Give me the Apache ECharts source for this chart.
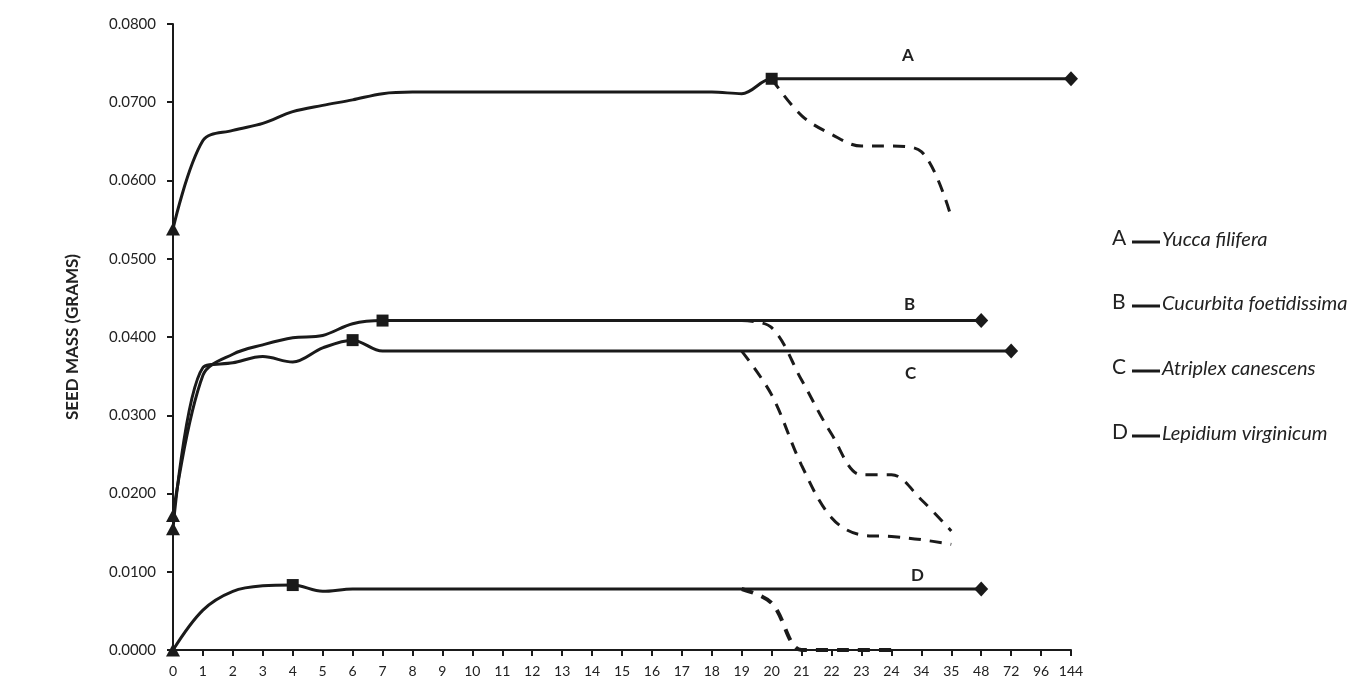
<!DOCTYPE html>
<html>
<head>
<meta charset="utf-8">
<script src="https://cdn.jsdelivr.net/npm/echarts@6/dist/echarts.min.js"></script>
<style>
  html, body { margin: 0; padding: 0; background: #fff; }
  #chart { width: 1368px; height: 693px; }
</style>
</head>
<body>
<div id="chart"></div>
<script>
// ---- Data ----
const categories = ['0','1','2','3','4','5','6','7','8','9','10','11','12','13','14','15','16','17','18','19','20','21','22','23','24','34','35','48','72','96','144'];
const yTickValues = [0, 0.01, 0.02, 0.03, 0.04, 0.05, 0.06, 0.07, 0.08];

// Solid lines (cumulative seed mass)
const yuccaSolid = [0.0538,0.0651,0.0664,0.0673,0.0688,0.0696,0.0703,0.0711,0.0713,0.0713,0.0713,0.0713,0.0713,0.0713,0.0713,0.0713,0.0713,0.0713,0.0713,0.0711,0.0730,0.0730,0.0730,0.0730,0.0730,0.0730,0.0730,0.0730,0.0730,0.0730,0.0730];
const cucurbitaSolid = [0.0172,0.0351,0.0378,0.0390,0.0399,0.0402,0.0417,0.0421,0.0421,0.0421,0.0421,0.0421,0.0421,0.0421,0.0421,0.0421,0.0421,0.0421,0.0421,0.0421,0.0421,0.0421,0.0421,0.0421,0.0421,0.0421,0.0421,0.0421,null,null,null];
const atriplexSolid = [0.0155,0.0361,0.0367,0.0375,0.0368,0.0386,0.0396,0.0382,0.0382,0.0382,0.0382,0.0382,0.0382,0.0382,0.0382,0.0382,0.0382,0.0382,0.0382,0.0382,0.0382,0.0382,0.0382,0.0382,0.0382,0.0382,0.0382,0.0382,0.0382,null,null];
const lepidiumSolid = [0.0000,0.0051,0.0075,0.0082,0.0083,0.0075,0.0078,0.0078,0.0078,0.0078,0.0078,0.0078,0.0078,0.0078,0.0078,0.0078,0.0078,0.0078,0.0078,0.0078,0.0078,0.0078,0.0078,0.0078,0.0078,0.0078,0.0078,0.0078,null,null,null];

// Dashed lines (decline)
const yuccaDashed = [null,null,null,null,null,null,null,null,null,null,null,null,null,null,null,null,null,null,null,null,0.0730,0.0683,0.0659,0.0644,0.0644,0.0637,0.0553,null,null,null,null];
const cucurbitaDashed = [null,null,null,null,null,null,null,null,null,null,null,null,null,null,null,null,null,null,null,0.0421,0.0412,0.0345,0.0276,0.0224,0.0224,0.0192,0.0152,null,null,null,null];
const atriplexDashed = [null,null,null,null,null,null,null,null,null,null,null,null,null,null,null,null,null,null,null,0.0382,0.0326,0.0236,0.0169,0.0147,0.0145,0.0141,0.0135,null,null,null,null];
const lepidiumDashed = [null,null,null,null,null,null,null,null,null,null,null,null,null,null,null,null,null,null,null,0.0078,0.0060,0.0000,0.0000,0.0000,0.0000,null,null,null,null,null,null];

// Marker categories: start (triangle), peak (square), end (diamond)
const yuccaMarkers = { start: '0', peak: '20', end: '144' };
const cucurbitaMarkers = { start: '0', peak: '7', end: '48' };
const atriplexMarkers = { start: '0', peak: '6', end: '72' };
const lepidiumMarkers = { start: '0', peak: '4', end: '48' };

const speciesLetters = ['A', 'B', 'C', 'D'];
const speciesNames = ['Yucca filifera', 'Cucurbita foetidissima', 'Atriplex canescens', 'Lepidium virginicum'];

// ---- Build ----
const INK = '#1a1a1a';
const FONT = 'Lato, "Open Sans", sans-serif';

function solidData(values, markers) {
  return values.map((v, i) => {
    const c = categories[i];
    if (v === null) return null;
    if (c === markers.start) return { value: v, symbol: 'triangle', symbolSize: [14, 13] };
    if (c === markers.peak) return { value: v, symbol: 'rect', symbolSize: 12 };
    if (c === markers.end) return { value: v, symbol: 'diamond', symbolSize: [14, 15] };
    return { value: v };
  });
}

function solidSeries(name, values, markers) {
  return {
    name: name, type: 'line', data: solidData(values, markers),
    smooth: 0.35, symbol: 'none', showAllSymbol: true,
    itemStyle: { color: INK },
    lineStyle: { color: INK, width: 3 },
    z: 3, animation: false
  };
}
function dashedSeries(name, values, width) {
  return {
    name: name + ' decline', type: 'line', data: values,
    smooth: 0.35, symbol: 'none',
    lineStyle: { color: INK, width: width || 3, type: [12, 9] },
    z: 2, animation: false
  };
}

const chart = echarts.init(document.getElementById('chart'), null, { renderer: 'canvas' });

const labelStyle = { fill: '#222', font: 'bold 17px ' + FONT };
const graphics = [
  { type: 'text', left: 902, top: 47, style: Object.assign({ text: 'A' }, labelStyle) },
  { type: 'text', left: 904, top: 296, style: Object.assign({ text: 'B' }, labelStyle) },
  { type: 'text', left: 905, top: 365, style: Object.assign({ text: 'C' }, labelStyle) },
  { type: 'text', left: 911, top: 567, style: Object.assign({ text: 'D' }, labelStyle) }
];
const legendTops = [228, 292, 357, 422];
speciesLetters.forEach((l, i) => {
  graphics.push({ type: 'text', left: 1112, top: legendTops[i], style: { text: l, fill: '#222', font: '21px ' + FONT } });
  graphics.push({ type: 'line', shape: { x1: 1132, y1: legendTops[i] + 14, x2: 1160, y2: legendTops[i] + 14 }, style: { stroke: INK, lineWidth: 3 } });
  graphics.push({ type: 'text', left: 1162, top: legendTops[i] + 2, style: { text: speciesNames[i], fill: '#222', font: 'italic 20px ' + FONT } });
});

const option = {
  backgroundColor: '#fff',
  animation: false,
  grid: { left: 173, right: 297, top: 24, bottom: 43, containLabel: false },
  xAxis: {
    type: 'category', data: categories, boundaryGap: false,
    axisLine: { lineStyle: { color: INK, width: 2 } },
    axisTick: { show: true, length: 6, alignWithLabel: true, interval: 0, lineStyle: { color: INK, width: 2 } },
    axisLabel: { interval: 0, color: '#222', fontFamily: FONT, fontSize: 14, margin: 14 },
    splitLine: { show: false }
  },
  yAxis: {
    type: 'value', min: 0, max: 0.08, interval: 0.01,
    name: 'SEED MASS (GRAMS)', nameLocation: 'middle', nameGap: 92, nameRotate: 90,
    nameTextStyle: { color: '#222', fontFamily: FONT, fontSize: 17, fontWeight: 'bold' },
    axisLine: { show: true, lineStyle: { color: INK, width: 2 } },
    axisTick: { show: true, length: 6, lineStyle: { color: INK, width: 2 } },
    axisLabel: { color: '#222', fontFamily: FONT, fontSize: 15, margin: 17,
      formatter: v => (yTickValues.includes(Math.round(v * 100) / 100) ? v.toFixed(4) : '') },
    splitLine: { show: false }
  },
  series: [
    dashedSeries('Yucca filifera', yuccaDashed),
    dashedSeries('Cucurbita foetidissima', cucurbitaDashed),
    dashedSeries('Atriplex canescens', atriplexDashed),
    dashedSeries('Lepidium virginicum', lepidiumDashed, 4),
    solidSeries('Yucca filifera', yuccaSolid, yuccaMarkers),
    solidSeries('Cucurbita foetidissima', cucurbitaSolid, cucurbitaMarkers),
    solidSeries('Atriplex canescens', atriplexSolid, atriplexMarkers),
    solidSeries('Lepidium virginicum', lepidiumSolid, lepidiumMarkers)
  ],
  graphic: graphics
};
chart.setOption(option);
</script>
</body>
</html>
